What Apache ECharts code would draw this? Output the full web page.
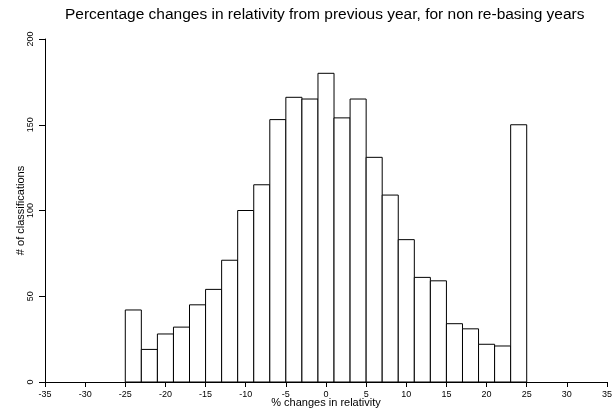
<!DOCTYPE html>
<html><head><meta charset="utf-8">
<script src="https://cdn.jsdelivr.net/npm/echarts@6/dist/echarts.min.js"></script>
<style>html,body{margin:0;padding:0;background:#fff}#c{width:614px;height:414px}</style>
</head><body><div id="c"></div>
<script>
const binStarts = [-25,-23,-21,-19,-17,-15,-13,-11,-9,-7,-5,-3,-1,1,3,5,7,9,11,13,15,17,19,21,23];
const binWidth = 2;
const counts = [42,19,28,32,45,54,71,100,115,153,166,165,180,154,165,131,109,83,61,59,34,31,22,21,150];
const titleText = 'Percentage changes in relativity from previous year, for non re-basing years';
const xTitle = '% changes in relativity';
const yTitle = '# of classifications';

const font = 'Liberation Sans, Arial, Helvetica, sans-serif';
const chart = echarts.init(document.getElementById('c'), null, {renderer:'canvas'});
const data = binStarts.map((s,i)=>[s, s+binWidth, counts[i]]);
chart.setOption({
  animation:false,
  backgroundColor:'#fff',
  title:{text:titleText,left:65,top:2,padding:[5,0,5,0],textStyle:{fontFamily:font,fontSize:15.5,fontWeight:'normal',color:'#000'}},
  grid:{left:45,right:7,top:39,bottom:32,containLabel:false,outerBoundsMode:'none'},
  xAxis:{type:'value',min:-35,max:35,interval:5,
    name:xTitle,nameLocation:'middle',nameGap:15,nameMoveOverlap:false,nameTextStyle:{fontFamily:font,fontSize:11,color:'#000'},
    axisLine:{show:true,onZero:false,lineStyle:{color:'#000',width:1}},
    axisTick:{show:true,length:5,lineStyle:{color:'#000'}},
    axisLabel:{fontFamily:font,fontSize:9,color:'#000',margin:8},
    splitLine:{show:false}},
  yAxis:{type:'value',min:0,max:200,interval:50,
    name:yTitle,nameLocation:'middle',nameGap:19,nameMoveOverlap:false,nameRotate:90,nameTextStyle:{fontFamily:font,fontSize:11,color:'#000'},
    axisLine:{show:true,onZero:false,lineStyle:{color:'#000',width:1}},
    axisTick:{show:true,length:6,lineStyle:{color:'#000'}},
    axisLabel:{fontFamily:font,fontSize:9,color:'#000',rotate:90,margin:10},
    splitLine:{show:false}},
  series:[{type:'custom',
    renderItem:function(params,api){
      const p0 = api.coord([api.value(0),0]);
      const p1 = api.coord([api.value(1),api.value(2)]);
      return {type:'rect',shape:{x:p0[0],y:p1[1],width:p1[0]-p0[0],height:p0[1]-p1[1]},
        style:{fill:'#fff',stroke:'#000',lineWidth:1}};
    },
    encode:{x:[0,1],y:2},
    data:data}]
});
</script></body></html>
